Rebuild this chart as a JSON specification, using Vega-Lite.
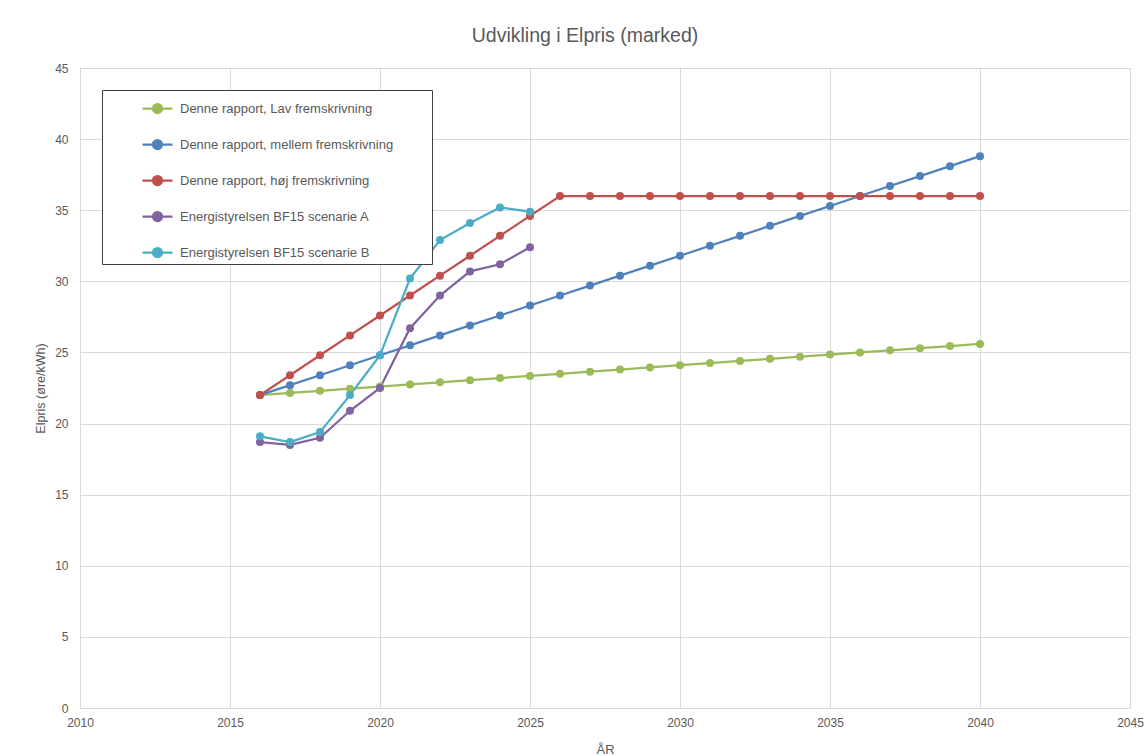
{
  "$schema": "https://vega.github.io/schema/vega-lite/v6.json",
  "width": 1050,
  "height": 640,
  "autosize": {"type": "none"},
  "padding": {"left": 80, "top": 68, "right": 17, "bottom": 48},
  "background": "white",
  "config": {
    "view": {"stroke": "#D9D9D9"},
    "font": "Liberation Sans"
  },
  "title": {
    "text": "Udvikling i Elpris (marked)",
    "fontSize": 19.5,
    "fontWeight": "normal",
    "color": "#595959",
    "font": "Liberation Sans",
    "anchor": "middle",
    "frame": "group",
    "dx": -20,
    "baseline": "alphabetic",
    "offset": 1
  },
  "data": {
    "values": [
      {"year": 2016, "value": 22.0, "series": "Denne rapport, Lav fremskrivning"},
      {"year": 2017, "value": 22.15, "series": "Denne rapport, Lav fremskrivning"},
      {"year": 2018, "value": 22.3, "series": "Denne rapport, Lav fremskrivning"},
      {"year": 2019, "value": 22.45, "series": "Denne rapport, Lav fremskrivning"},
      {"year": 2020, "value": 22.6, "series": "Denne rapport, Lav fremskrivning"},
      {"year": 2021, "value": 22.75, "series": "Denne rapport, Lav fremskrivning"},
      {"year": 2022, "value": 22.9, "series": "Denne rapport, Lav fremskrivning"},
      {"year": 2023, "value": 23.05, "series": "Denne rapport, Lav fremskrivning"},
      {"year": 2024, "value": 23.2, "series": "Denne rapport, Lav fremskrivning"},
      {"year": 2025, "value": 23.35, "series": "Denne rapport, Lav fremskrivning"},
      {"year": 2026, "value": 23.5, "series": "Denne rapport, Lav fremskrivning"},
      {"year": 2027, "value": 23.65, "series": "Denne rapport, Lav fremskrivning"},
      {"year": 2028, "value": 23.8, "series": "Denne rapport, Lav fremskrivning"},
      {"year": 2029, "value": 23.95, "series": "Denne rapport, Lav fremskrivning"},
      {"year": 2030, "value": 24.1, "series": "Denne rapport, Lav fremskrivning"},
      {"year": 2031, "value": 24.25, "series": "Denne rapport, Lav fremskrivning"},
      {"year": 2032, "value": 24.4, "series": "Denne rapport, Lav fremskrivning"},
      {"year": 2033, "value": 24.55, "series": "Denne rapport, Lav fremskrivning"},
      {"year": 2034, "value": 24.7, "series": "Denne rapport, Lav fremskrivning"},
      {"year": 2035, "value": 24.85, "series": "Denne rapport, Lav fremskrivning"},
      {"year": 2036, "value": 25.0, "series": "Denne rapport, Lav fremskrivning"},
      {"year": 2037, "value": 25.15, "series": "Denne rapport, Lav fremskrivning"},
      {"year": 2038, "value": 25.3, "series": "Denne rapport, Lav fremskrivning"},
      {"year": 2039, "value": 25.45, "series": "Denne rapport, Lav fremskrivning"},
      {"year": 2040, "value": 25.6, "series": "Denne rapport, Lav fremskrivning"},
      {"year": 2016, "value": 22.0, "series": "Denne rapport, mellem fremskrivning"},
      {"year": 2017, "value": 22.7, "series": "Denne rapport, mellem fremskrivning"},
      {"year": 2018, "value": 23.4, "series": "Denne rapport, mellem fremskrivning"},
      {"year": 2019, "value": 24.1, "series": "Denne rapport, mellem fremskrivning"},
      {"year": 2020, "value": 24.8, "series": "Denne rapport, mellem fremskrivning"},
      {"year": 2021, "value": 25.5, "series": "Denne rapport, mellem fremskrivning"},
      {"year": 2022, "value": 26.2, "series": "Denne rapport, mellem fremskrivning"},
      {"year": 2023, "value": 26.9, "series": "Denne rapport, mellem fremskrivning"},
      {"year": 2024, "value": 27.6, "series": "Denne rapport, mellem fremskrivning"},
      {"year": 2025, "value": 28.3, "series": "Denne rapport, mellem fremskrivning"},
      {"year": 2026, "value": 29.0, "series": "Denne rapport, mellem fremskrivning"},
      {"year": 2027, "value": 29.7, "series": "Denne rapport, mellem fremskrivning"},
      {"year": 2028, "value": 30.4, "series": "Denne rapport, mellem fremskrivning"},
      {"year": 2029, "value": 31.1, "series": "Denne rapport, mellem fremskrivning"},
      {"year": 2030, "value": 31.8, "series": "Denne rapport, mellem fremskrivning"},
      {"year": 2031, "value": 32.5, "series": "Denne rapport, mellem fremskrivning"},
      {"year": 2032, "value": 33.2, "series": "Denne rapport, mellem fremskrivning"},
      {"year": 2033, "value": 33.9, "series": "Denne rapport, mellem fremskrivning"},
      {"year": 2034, "value": 34.6, "series": "Denne rapport, mellem fremskrivning"},
      {"year": 2035, "value": 35.3, "series": "Denne rapport, mellem fremskrivning"},
      {"year": 2036, "value": 36.0, "series": "Denne rapport, mellem fremskrivning"},
      {"year": 2037, "value": 36.7, "series": "Denne rapport, mellem fremskrivning"},
      {"year": 2038, "value": 37.4, "series": "Denne rapport, mellem fremskrivning"},
      {"year": 2039, "value": 38.1, "series": "Denne rapport, mellem fremskrivning"},
      {"year": 2040, "value": 38.8, "series": "Denne rapport, mellem fremskrivning"},
      {"year": 2016, "value": 22.0, "series": "Denne rapport, høj fremskrivning"},
      {"year": 2017, "value": 23.4, "series": "Denne rapport, høj fremskrivning"},
      {"year": 2018, "value": 24.8, "series": "Denne rapport, høj fremskrivning"},
      {"year": 2019, "value": 26.2, "series": "Denne rapport, høj fremskrivning"},
      {"year": 2020, "value": 27.6, "series": "Denne rapport, høj fremskrivning"},
      {"year": 2021, "value": 29.0, "series": "Denne rapport, høj fremskrivning"},
      {"year": 2022, "value": 30.4, "series": "Denne rapport, høj fremskrivning"},
      {"year": 2023, "value": 31.8, "series": "Denne rapport, høj fremskrivning"},
      {"year": 2024, "value": 33.2, "series": "Denne rapport, høj fremskrivning"},
      {"year": 2025, "value": 34.6, "series": "Denne rapport, høj fremskrivning"},
      {"year": 2026, "value": 36.0, "series": "Denne rapport, høj fremskrivning"},
      {"year": 2027, "value": 36.0, "series": "Denne rapport, høj fremskrivning"},
      {"year": 2028, "value": 36.0, "series": "Denne rapport, høj fremskrivning"},
      {"year": 2029, "value": 36.0, "series": "Denne rapport, høj fremskrivning"},
      {"year": 2030, "value": 36.0, "series": "Denne rapport, høj fremskrivning"},
      {"year": 2031, "value": 36.0, "series": "Denne rapport, høj fremskrivning"},
      {"year": 2032, "value": 36.0, "series": "Denne rapport, høj fremskrivning"},
      {"year": 2033, "value": 36.0, "series": "Denne rapport, høj fremskrivning"},
      {"year": 2034, "value": 36.0, "series": "Denne rapport, høj fremskrivning"},
      {"year": 2035, "value": 36.0, "series": "Denne rapport, høj fremskrivning"},
      {"year": 2036, "value": 36.0, "series": "Denne rapport, høj fremskrivning"},
      {"year": 2037, "value": 36.0, "series": "Denne rapport, høj fremskrivning"},
      {"year": 2038, "value": 36.0, "series": "Denne rapport, høj fremskrivning"},
      {"year": 2039, "value": 36.0, "series": "Denne rapport, høj fremskrivning"},
      {"year": 2040, "value": 36.0, "series": "Denne rapport, høj fremskrivning"},
      {"year": 2016, "value": 18.7, "series": "Energistyrelsen BF15 scenarie A"},
      {"year": 2017, "value": 18.5, "series": "Energistyrelsen BF15 scenarie A"},
      {"year": 2018, "value": 19.0, "series": "Energistyrelsen BF15 scenarie A"},
      {"year": 2019, "value": 20.9, "series": "Energistyrelsen BF15 scenarie A"},
      {"year": 2020, "value": 22.5, "series": "Energistyrelsen BF15 scenarie A"},
      {"year": 2021, "value": 26.7, "series": "Energistyrelsen BF15 scenarie A"},
      {"year": 2022, "value": 29.0, "series": "Energistyrelsen BF15 scenarie A"},
      {"year": 2023, "value": 30.7, "series": "Energistyrelsen BF15 scenarie A"},
      {"year": 2024, "value": 31.2, "series": "Energistyrelsen BF15 scenarie A"},
      {"year": 2025, "value": 32.4, "series": "Energistyrelsen BF15 scenarie A"},
      {"year": 2016, "value": 19.1, "series": "Energistyrelsen BF15 scenarie B"},
      {"year": 2017, "value": 18.7, "series": "Energistyrelsen BF15 scenarie B"},
      {"year": 2018, "value": 19.4, "series": "Energistyrelsen BF15 scenarie B"},
      {"year": 2019, "value": 22.0, "series": "Energistyrelsen BF15 scenarie B"},
      {"year": 2020, "value": 24.8, "series": "Energistyrelsen BF15 scenarie B"},
      {"year": 2021, "value": 30.2, "series": "Energistyrelsen BF15 scenarie B"},
      {"year": 2022, "value": 32.9, "series": "Energistyrelsen BF15 scenarie B"},
      {"year": 2023, "value": 34.1, "series": "Energistyrelsen BF15 scenarie B"},
      {"year": 2024, "value": 35.2, "series": "Energistyrelsen BF15 scenarie B"},
      {"year": 2025, "value": 34.9, "series": "Energistyrelsen BF15 scenarie B"}
    ]
  },
  "encoding": {
    "x": {
      "field": "year",
      "type": "quantitative",
      "scale": {"domain": [2010, 2045], "nice": false, "zero": false},
      "axis": {
        "title": "ÅR",
        "values": [2010, 2015, 2020, 2025, 2030, 2035, 2040, 2045],
        "format": "d",
        "ticks": false,
        "domainColor": "#D9D9D9",
        "gridColor": "#D9D9D9",
        "labelColor": "#595959",
        "labelFont": "Liberation Sans",
        "labelFontSize": 12,
        "labelPadding": 9,
        "labelFlush": false,
        "titleColor": "#595959",
        "titleFont": "Liberation Sans",
        "titleFontSize": 13,
        "titleFontWeight": "normal",
        "titlePadding": 15
      }
    },
    "y": {
      "field": "value",
      "type": "quantitative",
      "scale": {"domain": [0, 45], "nice": false},
      "axis": {
        "title": "Elpris (øre/kWh)",
        "values": [0, 5, 10, 15, 20, 25, 30, 35, 40, 45],
        "ticks": false,
        "domain": false,
        "gridColor": "#D9D9D9",
        "labelColor": "#595959",
        "labelFontSize": 12,
        "labelPadding": 12,
        "labelFlush": false,
        "titleColor": "#595959",
        "titleFontSize": 12.5,
        "titleFontWeight": "normal",
        "titlePadding": 7
      }
    },
    "color": {
      "field": "series",
      "type": "nominal",
      "scale": {
        "domain": [
          "Denne rapport, Lav fremskrivning",
          "Denne rapport, mellem fremskrivning",
          "Denne rapport, høj fremskrivning",
          "Energistyrelsen BF15 scenarie A",
          "Energistyrelsen BF15 scenarie B"
        ],
        "range": ["#9BBB59", "#4F81BD", "#C0504D", "#8064A2", "#4BACC6"]
      },
      "legend": {
        "title": null,
        "orient": "none",
        "legendX": 22,
        "legendY": 22,
        "direction": "vertical",
        "fillColor": "white",
        "strokeColor": "#404040",
        "padding": 2,
        "rowPadding": 10,
        "symbolOffset": 37,
        "symbolType": "M-1,0L1,0M0.3,0A0.3,0.3,0,1,1,-0.3,0A0.3,0.3,0,1,1,0.3,0Z",
        "symbolSize": 900,
        "symbolStrokeWidth": 2.25,
        "labelOffset": 6,
        "labelColor": "#595959",
        "labelFontSize": 13,
        "labelLimit": 500,
        "labelExpr": "datum.label + '\u00a0\u00a0\u00a0\u00a0\u00a0\u00a0\u00a0\u00a0\u00a0\u00a0\u200b'",
        "encode": {
          "symbols": {
            "update": {
              "fill": {"scale": "color", "field": "value"},
              "stroke": {"scale": "color", "field": "value"},
              "opacity": {"value": 1}
            }
          }
        }
      }
    }
  },
  "layer": [
    {"mark": {"type": "line", "strokeWidth": 2.25}},
    {"mark": {"type": "point", "filled": true, "size": 64, "opacity": 1}}
  ]
}
